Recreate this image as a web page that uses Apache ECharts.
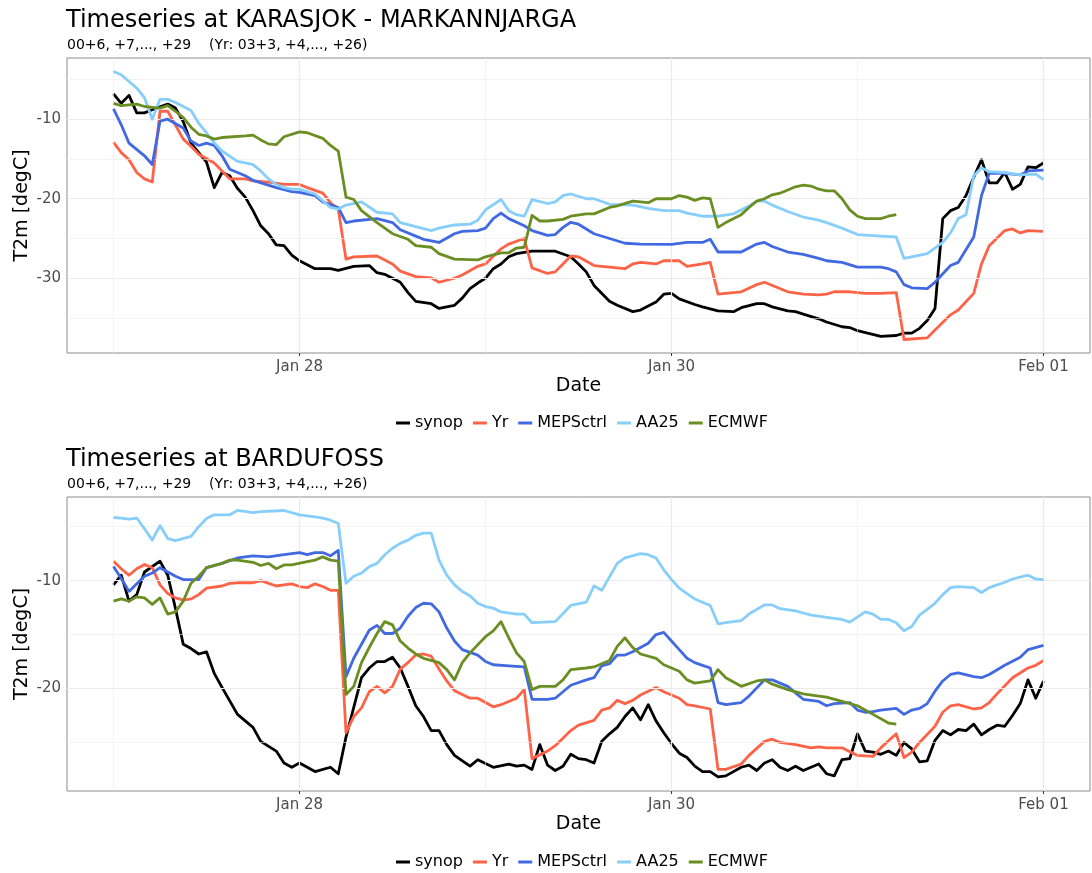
<!DOCTYPE html>
<html>
<head>
<meta charset="utf-8">
<title>Timeseries</title>
<script src="https://cdn.jsdelivr.net/npm/echarts@6/dist/echarts.min.js"></script>
<style>
  html, body { margin: 0; padding: 0; background: #fff; }
  #chart { width: 1092px; height: 873px; }
</style>
</head>
<body>
<div id="chart"></div>
<script>
// x values are hours after Jan 27 00:00, y values in degC
const START = Date.UTC(2025, 0, 27);
const HOUR = 3600 * 1000;

const seriesNames = ['synop', 'Yr', 'MEPSctrl', 'AA25', 'ECMWF'];
const seriesColors = ['#000000', '#FF6347', '#4169E1', '#87CEFA', '#6B8E23'];

const stationTitles = ['Timeseries at KARASJOK - MARKANNJARGA', 'Timeseries at BARDUFOSS'];
const subtitle = '00+6, +7,..., +29    (Yr: 03+3, +4,..., +26)';

// x ticks (hours) and their labels
const xRange = [-6, 126];
const xMajorHours = [24, 72, 120];
const xMinorHours = [0, 48, 96];
const monthNames = ['Jan', 'Feb', 'Mar', 'Apr', 'May', 'Jun', 'Jul', 'Aug', 'Sep', 'Oct', 'Nov', 'Dec'];

// y ranges / ticks per panel
const karasjokYRange = [-39.4, -2.3];
const karasjokYMajor = [-30, -20, -10];
const karasjokYMinor = [-35, -25, -15, -5];
const bardufossYRange = [-29.5, -2.25];
const bardufossYMajor = [-20, -10];
const bardufossYMinor = [-25, -15, -5];

// ---------- KARASJOK ----------
const karasjokSynop = [[0,-6.8],[1,-8.0],[2,-7.0],[3,-9.2],[4,-9.2],[5,-8.8],[7,-8.1],[8,-8.6],[9,-10.3],[10,-13.0],[11,-14.2],[12,-15.4],[13,-18.6],[14,-16.7],[15,-17.1],[16,-18.7],[17,-19.8],[18,-21.5],[19,-23.4],[20,-24.4],[21,-25.8],[22,-25.9],[23,-27.1],[24,-27.8],[26,-28.8],[28,-28.8],[29,-29.0],[31,-28.5],[33,-28.4],[34,-29.3],[35,-29.5],[37,-30.5],[38,-31.8],[39,-32.9],[41,-33.2],[42,-33.8],[44,-33.4],[45,-32.5],[46,-31.3],[47,-30.6],[48,-30.0],[49,-28.8],[50,-28.2],[51,-27.3],[52,-26.9],[54,-26.6],[57,-26.6],[59,-27.3],[60,-28.2],[61,-29.2],[62,-30.9],[64,-32.9],[65,-33.4],[67,-34.2],[68,-34.0],[70,-33.0],[71,-32.0],[72,-31.9],[73,-32.6],[75,-33.3],[76,-33.6],[78,-34.1],[80,-34.2],[81,-33.7],[83,-33.2],[84,-33.2],[85,-33.6],[87,-34.1],[88,-34.2],[89,-34.5],[91,-35.1],[92,-35.5],[94,-36.1],[95,-36.2],[96,-36.6],[99,-37.3],[101,-37.2],[102,-36.9],[103,-36.9],[104,-36.3],[105,-35.3],[106,-33.8],[107,-22.5],[108,-21.5],[109,-21.1],[110,-19.6],[111,-17.3],[112,-15.1],[113,-18.0],[114,-18.0],[115,-16.7],[116,-18.8],[117,-18.2],[118,-16.0],[119,-16.1],[120,-15.5]];
const karasjokYr = [[0,-12.9],[1,-14.2],[2,-15.1],[3,-16.7],[4,-17.5],[5,-17.9],[6,-9.0],[7,-9.0],[9,-12.5],[10,-13.4],[11,-14.4],[13,-15.5],[14,-16.5],[15,-17.5],[17,-17.5],[18,-17.75],[20,-17.9],[22,-18.2],[24,-18.2],[25,-18.6],[27,-19.3],[28,-20.5],[29,-21.3],[30,-27.6],[31,-27.3],[34,-27.2],[36,-28.2],[37,-29.1],[39,-29.8],[41,-29.95],[42,-30.5],[44,-30.0],[45,-29.6],[47,-28.5],[48,-28.2],[50,-26.3],[51,-25.7],[53,-25.0],[54,-28.7],[56,-29.4],[57,-29.2],[58,-28.2],[59,-27.2],[60,-27.3],[62,-28.4],[64,-28.6],[66,-28.8],[67,-28.2],[68,-28.0],[70,-28.2],[71,-27.8],[73,-27.8],[74,-28.5],[76,-28.2],[77,-28.0],[78,-32.0],[81,-31.7],[83,-30.8],[84,-30.5],[87,-31.7],[89,-32.0],[91,-32.1],[92,-32.0],[93,-31.7],[95,-31.7],[97,-31.9],[99,-31.9],[101,-31.8],[102,-37.7],[105,-37.5],[106,-36.5],[108,-34.6],[109,-34.0],[111,-31.9],[112,-28.2],[113,-25.9],[115,-24.0],[116,-23.8],[117,-24.3],[118,-24.0],[120,-24.1]];
const karasjokMeps = [[0,-8.7],[1,-10.7],[2,-13.0],[4,-14.6],[5,-15.7],[6,-10.25],[7,-10.0],[9,-11.1],[10,-12.75],[11,-13.3],[12,-13.0],[13,-13.3],[14,-14.6],[15,-16.3],[17,-17.1],[18,-17.7],[21,-18.6],[23,-19.1],[24,-19.2],[26,-19.6],[27,-20.4],[29,-21.1],[30,-23.0],[31,-22.8],[34,-22.5],[36,-23.0],[37,-23.9],[39,-24.7],[40,-25.1],[42,-25.5],[44,-24.4],[45,-24.1],[47,-24.0],[48,-23.7],[49,-22.5],[50,-21.8],[51,-22.5],[53,-23.4],[54,-24.0],[56,-24.6],[57,-24.5],[58,-23.6],[59,-22.96],[60,-23.2],[62,-24.4],[64,-25.0],[66,-25.6],[68,-25.7],[72,-25.75],[74,-25.5],[76,-25.5],[77,-25.1],[78,-26.7],[81,-26.7],[83,-25.7],[84,-25.5],[85,-26.0],[87,-26.7],[89,-27.0],[91,-27.5],[92,-27.8],[94,-28.0],[96,-28.6],[99,-28.6],[100,-28.8],[101,-29.2],[102,-30.8],[103,-31.2],[105,-31.3],[106,-30.5],[108,-28.4],[109,-28.0],[111,-24.8],[112,-19.6],[113,-16.8],[115,-16.8],[117,-17.0],[118,-16.5],[120,-16.4]];
const karasjokAa25 = [[0,-4.0],[1,-4.4],[2,-5.25],[3,-6.1],[4,-7.3],[5,-10.0],[6,-7.5],[7,-7.5],[8,-7.9],[10,-8.9],[11,-10.5],[12,-11.7],[13,-13.0],[14,-14.0],[16,-15.3],[17,-15.5],[18,-15.7],[19,-16.5],[20,-17.5],[21,-18.2],[22,-18.6],[23,-18.8],[24,-18.8],[26,-19.4],[28,-21.1],[29,-21.3],[30,-20.8],[32,-20.4],[34,-21.7],[36,-21.9],[37,-23.0],[39,-23.5],[41,-24.0],[42,-23.7],[44,-23.3],[46,-23.2],[47,-22.7],[48,-21.4],[50,-20.1],[51,-21.5],[52,-22.0],[53,-22.2],[54,-20.1],[56,-20.6],[57,-20.4],[58,-19.6],[59,-19.4],[61,-20.0],[62,-20.0],[64,-20.7],[67,-20.8],[69,-21.2],[71,-21.5],[73,-21.5],[74,-21.8],[76,-22.2],[78,-22.2],[80,-21.9],[82,-20.9],[83,-20.3],[84,-20.3],[85,-20.8],[87,-21.6],[89,-22.3],[91,-22.7],[92,-23.0],[94,-23.7],[96,-24.5],[99,-24.7],[101,-24.8],[102,-27.5],[103,-27.3],[105,-26.9],[107,-25.5],[108,-24.3],[109,-22.5],[110,-22.0],[111,-17.1],[112,-16.1],[113,-16.6],[115,-16.7],[117,-17.0],[119,-16.9],[120,-17.6]];
const karasjokEcmwf = [[0,-8.0],[1,-8.3],[3,-8.1],[4,-8.4],[5,-8.5],[6,-8.6],[7,-8.3],[8,-9.0],[9,-9.8],[10,-11.0],[11,-11.9],[12,-12.1],[13,-12.5],[14,-12.3],[17,-12.1],[18,-12.0],[19,-12.6],[20,-13.1],[21,-13.2],[22,-12.2],[24,-11.6],[25,-11.7],[27,-12.4],[28,-13.3],[29,-14.0],[30,-19.8],[31,-20.1],[32,-21.5],[34,-23.0],[36,-24.4],[38,-25.1],[39,-25.9],[41,-26.1],[42,-26.9],[44,-27.6],[47,-27.7],[48,-27.3],[50,-26.8],[51,-26.8],[52,-26.2],[53,-26.1],[54,-22.1],[55,-22.8],[56,-22.8],[58,-22.6],[59,-22.2],[61,-21.9],[62,-21.9],[64,-21.1],[65,-20.9],[67,-20.3],[69,-20.5],[70,-20.0],[72,-20.0],[73,-19.6],[74,-19.8],[75,-20.2],[76,-19.9],[77,-20.0],[78,-23.6],[79,-23.0],[81,-22.0],[82,-21.1],[83,-20.3],[84,-20.0],[85,-19.5],[86,-19.3],[88,-18.5],[89,-18.3],[90,-18.4],[91,-18.8],[92,-19.0],[93,-19.0],[94,-20.0],[95,-21.4],[96,-22.2],[97,-22.5],[99,-22.5],[100,-22.2],[101,-22.0]];

// ---------- BARDUFOSS ----------
const bardufossSynop = [[0,-10.4],[1,-9.5],[2,-11.9],[3,-11.3],[4,-9.2],[6,-8.2],[7,-9.5],[8,-12.6],[9,-15.9],[10,-16.3],[11,-16.8],[12,-16.6],[13,-18.6],[14,-19.9],[16,-22.4],[17,-23.0],[18,-23.6],[19,-24.9],[21,-25.8],[22,-26.9],[23,-27.3],[24,-26.9],[26,-27.7],[28,-27.3],[29,-27.9],[30,-24.5],[32,-19.0],[33,-18.1],[34,-17.5],[35,-17.5],[36,-17.1],[37,-18.1],[38,-19.8],[39,-21.6],[40,-22.6],[41,-23.9],[42,-23.9],[43,-25.2],[44,-26.2],[46,-27.2],[47,-26.6],[49,-27.3],[51,-27.0],[52,-27.2],[53,-27.1],[54,-27.5],[55,-25.2],[56,-27.1],[57,-27.6],[58,-27.2],[59,-26.1],[60,-26.5],[61,-26.6],[62,-26.9],[63,-24.9],[64,-24.2],[65,-23.6],[66,-22.6],[67,-21.8],[68,-22.9],[69,-21.5],[70,-23.0],[71,-24.1],[72,-25.1],[73,-26.0],[74,-26.4],[75,-27.2],[76,-27.7],[77,-27.7],[78,-28.2],[79,-28.1],[81,-27.3],[82,-27.1],[83,-27.6],[84,-26.9],[85,-26.6],[86,-27.3],[87,-27.6],[88,-27.2],[89,-27.6],[90,-27.3],[91,-27.0],[92,-27.9],[93,-28.1],[94,-26.6],[95,-26.5],[96,-24.2],[97,-25.8],[98,-25.9],[99,-26.1],[100,-25.8],[101,-26.2],[102,-25.0],[103,-25.6],[104,-26.8],[105,-26.7],[106,-24.8],[107,-23.9],[108,-24.3],[109,-23.8],[110,-23.9],[111,-23.3],[112,-24.3],[113,-23.8],[114,-23.4],[115,-23.5],[116,-22.5],[117,-21.4],[118,-19.2],[119,-20.9],[120,-19.3]];
const bardufossYr = [[0,-8.2],[1,-8.9],[2,-9.5],[3,-8.9],[4,-8.5],[5,-8.8],[6,-10.4],[7,-11.2],[8,-11.6],[9,-11.8],[10,-11.7],[11,-11.3],[12,-10.7],[14,-10.5],[15,-10.25],[16,-10.2],[18,-10.2],[19,-10.0],[21,-10.5],[22,-10.4],[23,-10.3],[24,-10.55],[25,-10.65],[26,-10.3],[27,-10.55],[28,-10.9],[29,-10.9],[30,-24.1],[31,-22.6],[32,-21.8],[33,-20.3],[34,-19.8],[35,-20.4],[36,-19.8],[37,-18.2],[38,-17.6],[39,-16.9],[40,-16.8],[41,-17.0],[42,-18.2],[43,-19.3],[44,-20.2],[46,-20.9],[47,-20.9],[48,-21.3],[49,-21.7],[50,-21.5],[52,-20.9],[53,-20.1],[54,-26.5],[56,-25.8],[57,-25.3],[59,-23.9],[60,-23.4],[62,-22.95],[63,-22.0],[64,-21.8],[65,-21.1],[66,-21.4],[67,-21.1],[68,-20.6],[70,-19.9],[71,-20.3],[73,-20.9],[74,-21.5],[75,-21.6],[77,-21.9],[78,-27.5],[79,-27.5],[81,-27.0],[82,-26.2],[84,-24.9],[85,-24.7],[86,-25.0],[88,-25.2],[90,-25.5],[91,-25.4],[92,-25.5],[94,-25.5],[96,-26.2],[98,-26.3],[99,-25.5],[101,-24.2],[102,-26.4],[103,-25.9],[104,-25.0],[106,-23.5],[107,-22.2],[108,-21.6],[109,-21.5],[111,-21.9],[112,-21.8],[113,-21.3],[114,-20.5],[116,-19.0],[118,-18.1],[119,-17.85],[120,-17.4]];
const bardufossMeps = [[0,-8.7],[1,-9.8],[2,-11.0],[3,-10.3],[4,-9.6],[5,-9.3],[6,-8.8],[7,-9.2],[8,-9.6],[9,-9.9],[11,-9.9],[12,-8.8],[14,-8.4],[16,-7.9],[18,-7.7],[20,-7.8],[22,-7.6],[24,-7.4],[25,-7.6],[26,-7.4],[27,-7.4],[28,-7.7],[29,-7.2],[30,-18.9],[31,-17.2],[32,-15.9],[33,-14.6],[34,-14.15],[35,-14.9],[36,-14.9],[37,-14.4],[38,-13.3],[39,-12.5],[40,-12.1],[41,-12.15],[42,-12.9],[43,-14.4],[44,-15.6],[45,-16.4],[47,-16.9],[48,-17.5],[49,-17.8],[51,-17.9],[53,-18.0],[54,-21.0],[56,-21.0],[57,-20.9],[59,-19.7],[61,-19.2],[62,-19.0],[63,-17.9],[64,-17.7],[65,-16.9],[66,-16.9],[67,-16.6],[69,-15.8],[70,-15.0],[71,-14.8],[72,-15.6],[73,-16.4],[74,-17.2],[75,-17.6],[76,-17.85],[77,-18.1],[78,-21.3],[79,-21.5],[81,-21.3],[82,-20.7],[84,-19.2],[85,-19.2],[87,-19.8],[88,-20.4],[89,-21.0],[91,-21.2],[92,-21.6],[93,-21.4],[95,-21.3],[96,-22.0],[97,-22.2],[98,-22.15],[99,-22.0],[101,-21.85],[102,-22.4],[103,-22.0],[104,-21.85],[105,-21.4],[106,-20.25],[107,-19.3],[108,-18.7],[109,-18.55],[111,-18.9],[112,-19.0],[113,-18.7],[115,-17.85],[117,-17.1],[118,-16.4],[120,-16.0]];
const bardufossAa25 = [[0,-4.15],[1,-4.2],[2,-4.3],[3,-4.2],[4,-5.2],[5,-6.25],[6,-4.9],[7,-6.1],[8,-6.3],[10,-5.9],[11,-5.0],[12,-4.25],[13,-3.9],[15,-3.9],[16,-3.5],[18,-3.7],[19,-3.6],[22,-3.5],[24,-3.9],[26,-4.1],[27,-4.2],[28,-4.4],[29,-4.7],[30,-10.25],[31,-9.6],[32,-9.3],[33,-8.7],[34,-8.4],[35,-7.6],[36,-7.0],[37,-6.55],[38,-6.25],[39,-5.8],[40,-5.6],[41,-5.6],[42,-8.1],[43,-9.5],[44,-10.4],[45,-11.0],[46,-11.4],[47,-12.1],[48,-12.4],[49,-12.55],[50,-12.9],[52,-13.1],[53,-13.1],[54,-13.9],[57,-13.8],[59,-12.3],[61,-12.0],[62,-10.5],[63,-10.9],[65,-8.4],[66,-7.9],[68,-7.5],[69,-7.6],[70,-7.9],[71,-9.0],[72,-9.9],[73,-10.7],[74,-11.2],[75,-11.7],[77,-12.3],[78,-14.0],[79,-13.9],[81,-13.7],[82,-13.1],[84,-12.25],[85,-12.25],[86,-12.6],[88,-12.8],[89,-13.0],[90,-13.2],[91,-13.3],[92,-13.4],[94,-13.6],[95,-13.85],[97,-12.9],[98,-13.1],[99,-13.6],[100,-13.6],[101,-13.9],[102,-14.65],[103,-14.25],[104,-13.2],[106,-12.1],[107,-11.3],[108,-10.65],[109,-10.55],[111,-10.65],[112,-11.1],[113,-10.65],[115,-10.15],[116,-9.85],[118,-9.5],[119,-9.85],[120,-9.9]];
const bardufossEcmwf = [[0,-11.9],[1,-11.7],[2,-11.9],[3,-11.5],[4,-11.6],[5,-12.2],[6,-11.6],[7,-13.1],[8,-12.9],[9,-11.9],[10,-10.25],[11,-9.6],[12,-8.8],[14,-8.4],[15,-8.1],[16,-8.1],[18,-8.3],[19,-8.6],[20,-8.4],[21,-8.9],[22,-8.55],[23,-8.55],[25,-8.25],[26,-8.1],[27,-7.8],[28,-8.1],[29,-8.2],[30,-20.55],[31,-19.8],[32,-17.6],[33,-16.2],[34,-14.9],[35,-13.8],[36,-14.1],[37,-15.6],[38,-16.25],[39,-16.8],[40,-17.2],[42,-17.6],[43,-18.25],[44,-19.2],[45,-17.6],[46,-16.7],[48,-15.2],[49,-14.65],[50,-13.8],[51,-15.3],[52,-16.7],[53,-17.5],[54,-20.1],[55,-19.8],[57,-19.8],[58,-19.2],[59,-18.25],[61,-18.1],[62,-18.0],[64,-17.4],[65,-16.1],[66,-15.3],[67,-16.2],[68,-16.8],[70,-17.2],[71,-17.8],[73,-18.4],[74,-19.2],[75,-19.5],[77,-19.3],[78,-18.25],[79,-19.0],[81,-19.8],[83,-19.3],[84,-19.2],[85,-19.6],[87,-20.1],[89,-20.5],[91,-20.7],[92,-20.8],[94,-21.2],[96,-21.6],[98,-22.4],[100,-23.2],[101,-23.3]];

const karasjokData = [karasjokSynop, karasjokYr, karasjokMeps, karasjokAa25, karasjokEcmwf];
const bardufossData = [bardufossSynop, bardufossYr, bardufossMeps, bardufossAa25, bardufossEcmwf];

const FONT = 'DejaVu Sans';

// hour offset -> "Jan 28"
const fmtDate = h => {
    const d = new Date(START + h * HOUR);
    return monthNames[d.getUTCMonth()] + ' ' + String(d.getUTCDate()).padStart(2, '0');
};

// panel layout (pixels)
const PANEL_LEFT = 67;
const PANEL_WIDTH = 1023;
const panelTops = [58, 497];
const panelHeights = [295, 294];
const OFFSET = 439; // vertical shift from panel 1 to panel 2

const grids = [];
const xAxes = [];
const yAxes = [];
const series = [];
const titles = [];
const legends = [];

function addPanel(i, data, yRange, yMajor, yMinor) {
    grids.push({
        left: PANEL_LEFT, top: panelTops[i], width: PANEL_WIDTH, height: panelHeights[i],
        show: true, borderColor: '#8c8c8c', borderWidth: 1, backgroundColor: '#fff'
    });
    xAxes.push({
        type: 'value', gridIndex: i,
        min: xRange[0], max: xRange[1],
        name: 'Date', nameLocation: 'middle', nameGap: 24,
        nameTextStyle: { fontFamily: FONT, fontSize: 19, color: '#000' },
        axisLine: { show: false },
        axisTick: { show: true, length: 3, customValues: xMajorHours, lineStyle: { color: '#333', width: 1 } },
        axisLabel: { customValues: xMajorHours, formatter: fmtDate, margin: 7,
            fontFamily: FONT, fontSize: 15, color: '#4d4d4d' },
        splitLine: { show: false }
    });
    yAxes.push({
        type: 'value', gridIndex: i,
        min: yRange[0], max: yRange[1],
        name: 'T2m [degC]', nameLocation: 'middle', nameGap: 35, nameRotate: 90,
        nameMoveOverlap: false,
        nameTextStyle: { fontFamily: FONT, fontSize: 19, color: '#000' },
        axisLine: { show: false },
        axisTick: { show: true, length: 3, customValues: yMajor, lineStyle: { color: '#333', width: 1 } },
        axisLabel: { customValues: yMajor, margin: 6, fontFamily: FONT, fontSize: 15, color: '#4d4d4d' },
        splitLine: { show: false }
    });

    // background grid lines (major + minor) drawn through the axis scales
    const gridLines = [];
    yMinor.forEach(v => gridLines.push({ yAxis: v, lineStyle: { width: 0.6 } }));
    xMinorHours.forEach(h => gridLines.push({ xAxis: h, lineStyle: { width: 0.6 } }));
    yMajor.forEach(v => gridLines.push({ yAxis: v, lineStyle: { width: 1.2 } }));
    xMajorHours.forEach(h => gridLines.push({ xAxis: h, lineStyle: { width: 1.2 } }));
    series.push({
        name: '_grid' + i, type: 'line', xAxisIndex: i, yAxisIndex: i, data: [], z: 1, silent: true,
        markLine: {
            silent: true, symbol: ['none', 'none'], label: { show: false }, animation: false,
            lineStyle: { color: '#ebebeb', type: 'solid' },
            emphasis: { disabled: true },
            data: gridLines
        }
    });

    data.forEach((pts, k) => {
        series.push({
            name: seriesNames[k], type: 'line', xAxisIndex: i, yAxisIndex: i,
            showSymbol: false, symbol: 'none', z: 3 + k,
            lineStyle: { color: seriesColors[k], width: 2.8, join: 'round' },
            itemStyle: { color: seriesColors[k] },
            emphasis: { disabled: true },
            data: pts
        });
    });

    titles.push({
        text: stationTitles[i], left: 66, top: 9 + i * OFFSET, padding: 0,
        textStyle: { fontFamily: FONT, fontSize: 24, fontWeight: 'normal', color: '#000' }
    });
    titles.push({
        text: subtitle, left: 67, top: 38 + i * OFFSET, padding: 0,
        textStyle: { fontFamily: FONT, fontSize: 14, fontWeight: 'normal', color: '#000' }
    });
    legends.push({
        data: seriesNames, left: 396, top: 415 + i * OFFSET, padding: 0,
        icon: 'rect', itemWidth: 14, itemHeight: 3, itemGap: 10,
        selectedMode: false,
        textStyle: { fontFamily: FONT, fontSize: 16, color: '#000' }
    });
}

addPanel(0, karasjokData, karasjokYRange, karasjokYMajor, karasjokYMinor);
addPanel(1, bardufossData, bardufossYRange, bardufossYMajor, bardufossYMinor);

const chart = echarts.init(document.getElementById('chart'), null, { renderer: 'canvas' });
chart.setOption({
    animation: false,
    backgroundColor: '#fff',
    title: titles,
    legend: legends,
    grid: grids,
    xAxis: xAxes,
    yAxis: yAxes,
    series: series
});
</script>
</body>
</html>
